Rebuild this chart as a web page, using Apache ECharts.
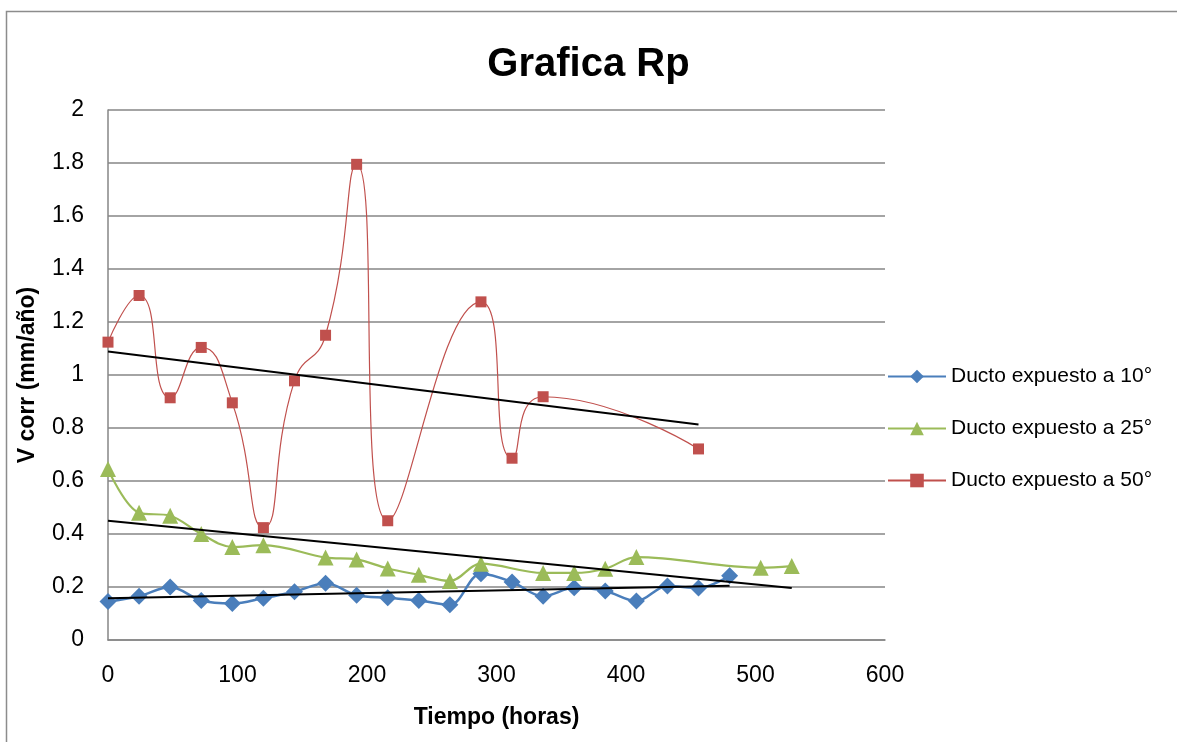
<!DOCTYPE html>
<html>
<head>
<meta charset="utf-8">
<script src="https://cdn.jsdelivr.net/npm/echarts@6/dist/echarts.min.js"></script>
<style>
html,body{margin:0;padding:0;background:#fff;}
#chart{width:1177px;height:742px;}
</style>
</head>
<body>
<div id="chart"></div>
<script>
// Data
const seriesNames = ['Ducto expuesto a 10°', 'Ducto expuesto a 25°', 'Ducto expuesto a 50°'];
const hours10 = [0, 24, 48, 72, 96, 120, 144, 168, 192, 216, 240, 264, 288, 312, 336, 360, 384, 408, 432, 456, 480];
const vcorr10 = [0.145, 0.165, 0.2, 0.149, 0.138, 0.158, 0.182, 0.214, 0.169, 0.159, 0.149, 0.133, 0.25, 0.219, 0.165, 0.197, 0.185, 0.147, 0.204, 0.196, 0.242];
const hours25 = [0, 24, 48, 72, 96, 120, 168, 192, 216, 240, 264, 288, 336, 360, 384, 408, 504, 528];
const vcorr25 = [0.645, 0.48, 0.469, 0.4, 0.351, 0.358, 0.311, 0.304, 0.27, 0.246, 0.223, 0.288, 0.253, 0.253, 0.269, 0.313, 0.273, 0.279];
const hours50 = [0, 24, 48, 72, 96, 120, 144, 168, 192, 216, 288, 312, 336, 456];
const vcorr50 = [1.124, 1.3, 0.914, 1.104, 0.895, 0.424, 0.978, 1.15, 1.795, 0.45, 1.276, 0.686, 0.918, 0.721];
// Linear trendline endpoints [x, y]
const trend10 = [[0, 0.158], [480, 0.205]];
const trend25 = [[0, 0.45], [528, 0.196]];
const trend50 = [[0, 1.089], [456, 0.813]];
const xTicks = [0, 100, 200, 300, 400, 500, 600];

const pair = (xs, ys) => xs.map((x, i) => [x, ys[i]]);
const FONT = "'Liberation Sans', Arial, sans-serif";
const colors = ['#4A7EBB', '#9BBB59', '#C0504D'];

const chart = echarts.init(document.getElementById('chart'), null, {renderer: 'canvas'});
const trendStyle = {color: '#000', width: 2};
chart.setOption({
  animation: false,
  backgroundColor: '#fff',
  graphic: [{
    type: 'rect', silent: true, z: -10,
    shape: {x: 6.5, y: 11.5, width: 1200, height: 800},
    style: {fill: 'none', stroke: '#8c8c8c', lineWidth: 1.5}
  }],
  title: {
    text: 'Grafica Rp',
    left: 'center',
    top: 40,
    textStyle: {fontFamily: FONT, fontWeight: 'bold', fontSize: 40, color: '#000'}
  },
  grid: {left: 108, top: 110, right: 292, bottom: 102, containLabel: false},
  legend: {
    orient: 'vertical',
    left: 882,
    top: 361,
    itemGap: 31,
    itemWidth: 58,
    itemHeight: 17,
    data: seriesNames,
    textStyle: {fontFamily: FONT, fontSize: 21, color: '#000'}
  },
  xAxis: {
    type: 'value',
    min: xTicks[0],
    max: xTicks[xTicks.length - 1],
    interval: 100,
    name: 'Tiempo (horas)',
    nameLocation: 'middle',
    nameGap: 66,
    nameTextStyle: {fontFamily: FONT, fontWeight: 'bold', fontSize: 23, color: '#000'},
    axisLine: {show: true, lineStyle: {color: '#868686', width: 1.5}},
    axisTick: {show: false},
    axisLabel: {fontFamily: FONT, fontSize: 23, color: '#000', margin: 24},
    splitLine: {show: false}
  },
  yAxis: {
    type: 'value',
    min: 0,
    max: 2,
    interval: 0.2,
    name: 'V corr (mm/año)',
    nameLocation: 'middle',
    nameGap: 69,
    nameTextStyle: {fontFamily: FONT, fontWeight: 'bold', fontSize: 23, color: '#000'},
    axisLine: {show: true, lineStyle: {color: '#868686', width: 1.5}},
    axisTick: {show: false},
    axisLabel: {fontFamily: FONT, fontSize: 23, color: '#000', margin: 24},
    splitLine: {show: true, lineStyle: {color: '#868686', width: 1.5}}
  },
  series: [
    {
      name: seriesNames[0], type: 'line', data: pair(hours10, vcorr10),
      smooth: 0.35, symbol: 'diamond', symbolSize: 17,
      itemStyle: {color: colors[0]}, lineStyle: {color: colors[0], width: 2.5}, z: 3
    },
    {
      name: seriesNames[1], type: 'line', data: pair(hours25, vcorr25),
      smooth: 0.35, symbol: 'triangle', symbolSize: 16,
      itemStyle: {color: colors[1]}, lineStyle: {color: colors[1], width: 2.2}, z: 3
    },
    {
      name: seriesNames[2], type: 'line', data: pair(hours50, vcorr50),
      smooth: 0.55, symbol: 'rect', symbolSize: 11,
      itemStyle: {color: colors[2]}, lineStyle: {color: colors[2], width: 1.2}, z: 3
    },
    {name: 'trend10', type: 'line', data: trend10, symbol: 'none', lineStyle: trendStyle, z: 4},
    {name: 'trend25', type: 'line', data: trend25, symbol: 'none', lineStyle: trendStyle, z: 4},
    {name: 'trend50', type: 'line', data: trend50, symbol: 'none', lineStyle: trendStyle, z: 4}
  ]
});
</script>
</body>
</html>
